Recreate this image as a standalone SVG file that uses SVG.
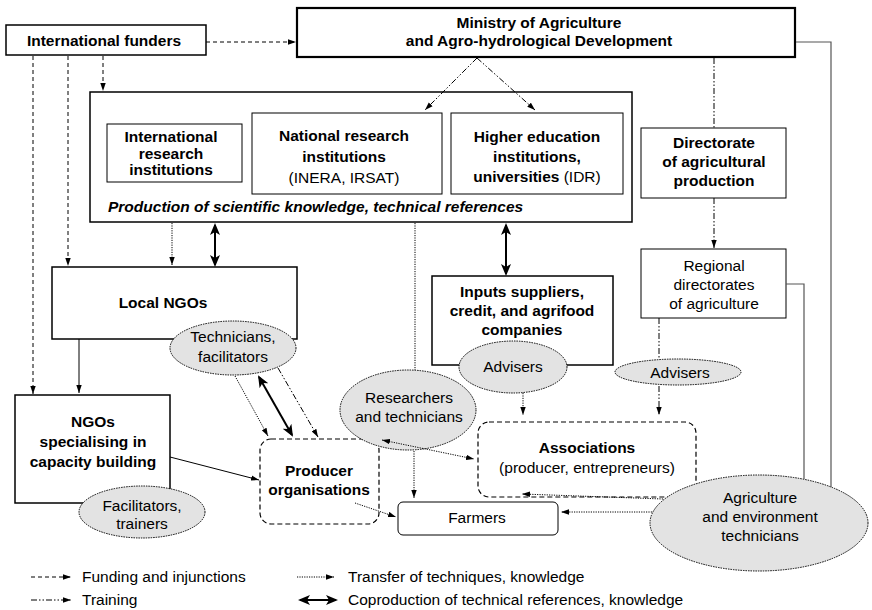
<svg xmlns="http://www.w3.org/2000/svg" width="872" height="610" viewBox="0 0 872 610">
<style>
.box{fill:#fff;stroke:#000;stroke-width:1.5}
.thin{stroke-width:1}
.heavy{stroke-width:2.2}
.ell{fill:#e3e3e3;stroke:#000;stroke-width:1;stroke-dasharray:1.5 1}
.dbox{fill:#fff;stroke:#000;stroke-width:1.2;stroke-dasharray:5 3}
.t{font-family:"Liberation Sans",Arial,Helvetica,sans-serif;font-size:15.5px;text-anchor:middle;fill:#000}
.b{font-weight:bold}
.c{fill:none;stroke:#000;stroke-width:1}
.fund{stroke-dasharray:4 3}
.train{stroke-dasharray:6 2 1.5 2 1.5 2}
.tran{stroke-dasharray:1.2 1.2}
.co{stroke-width:2}
.gray{stroke:#555;stroke-width:1.2}
</style>
<defs>
<marker id="a" viewBox="0 0 8 6" refX="8" refY="3" markerWidth="8" markerHeight="6" orient="auto-start-reverse" markerUnits="userSpaceOnUse"><path d="M0,0.3 L8,3 L0,5.7 z" fill="#000"/></marker>
<marker id="ak" viewBox="0 0 12 10" refX="10" refY="5" markerWidth="12" markerHeight="10" orient="auto-start-reverse" markerUnits="userSpaceOnUse"><path d="M0,0 L12,5 L0,10 L3,5 z" fill="#000"/></marker>
</defs>

<g id="international-funders">
<rect class="box" x="6" y="25" width="200" height="30"/>
<text class="t b" x="104" y="46">International funders</text>
</g>

<g id="ministry">
<rect class="box heavy" x="297" y="8" width="498" height="49"/>
<text class="t b" x="539" y="28">Ministry of Agriculture</text>
<text class="t b" x="539" y="46">and Agro-hydrological Development</text>
</g>

<g id="production">
<rect class="box" x="90" y="92" width="542" height="130"/>
<text class="t b" x="108" y="212" style="font-style:italic;text-anchor:start">Production of scientific knowledge, technical references</text>
</g>

<g id="international-research">
<rect class="box thin" x="107" y="124" width="135" height="58"/>
<text class="t b" x="171" y="142">International</text>
<text class="t b" x="171" y="159">research</text>
<text class="t b" x="171" y="175">institutions</text>
</g>

<g id="national-research">
<rect class="box thin" x="252" y="113" width="190" height="81"/>
<text class="t b" x="344" y="141">National research</text>
<text class="t b" x="344" y="162">institutions</text>
<text class="t" x="344" y="183">(INERA, IRSAT)</text>
</g>

<g id="higher-education">
<rect class="box thin" x="451" y="113" width="172" height="81"/>
<text class="t b" x="537" y="142">Higher education</text>
<text class="t b" x="537" y="162">institutions,</text>
<text class="t" x="537" y="182"><tspan class="b">universities</tspan> (IDR)</text>
</g>

<g id="directorate">
<rect class="box thin" x="641" y="128" width="145" height="70"/>
<text class="t b" x="714" y="148">Directorate</text>
<text class="t b" x="714" y="167">of agricultural</text>
<text class="t b" x="714" y="186">production</text>
</g>

<g id="regional-directorates">
<rect class="box thin" x="641" y="249" width="145" height="69"/>
<text class="t" x="714" y="271">Regional</text>
<text class="t" x="714" y="290">directorates</text>
<text class="t" x="714" y="309">of agriculture</text>
</g>

<g id="local-ngos">
<rect class="box" x="52" y="267" width="245" height="72"/>
<text class="t b" x="163" y="308">Local NGOs</text>
</g>

<g id="inputs-suppliers">
<rect class="box" x="432" y="276" width="181" height="89"/>
<text class="t b" x="522" y="297">Inputs suppliers,</text>
<text class="t b" x="522" y="316">credit, and agrifood</text>
<text class="t b" x="522" y="335">companies</text>
</g>

<g id="ngos-capacity">
<rect class="box" x="15" y="395" width="155" height="108"/>
<text class="t b" x="93" y="427">NGOs</text>
<text class="t b" x="93" y="447">specialising in</text>
<text class="t b" x="93" y="467">capacity building</text>
</g>

<g id="producer-organisations">
<rect class="dbox" x="260" y="439" width="119" height="85" rx="11"/>
<text class="t b" x="319" y="476">Producer</text>
<text class="t b" x="319" y="495">organisations</text>
</g>

<g id="associations">
<rect class="dbox" x="478" y="422" width="218" height="75" rx="11"/>
<text class="t b" x="587" y="453">Associations</text>
<text class="t" x="587" y="473">(producer, entrepreneurs)</text>
</g>

<g id="farmers">
<rect class="box thin" x="398" y="502" width="160" height="33" rx="5"/>
<text class="t" x="477" y="523">Farmers</text>
</g>

<g id="technicians-facilitators">
<ellipse class="ell" cx="233" cy="348" rx="63" ry="27"/>
<text class="t" x="233" y="342">Technicians,</text>
<text class="t" x="233" y="362">facilitators</text>
</g>

<g id="advisers-inputs">
<ellipse class="ell" cx="513" cy="367" rx="54" ry="26"/>
<text class="t" x="513" y="372">Advisers</text>
</g>

<g id="advisers-regional">
<ellipse class="ell" cx="678" cy="372" rx="63" ry="13"/>
<text class="t" x="680" y="378">Advisers</text>
</g>

<g id="facilitators-trainers">
<ellipse class="ell" cx="142" cy="512" rx="63" ry="26"/>
<text class="t" x="142" y="511">Facilitators,</text>
<text class="t" x="142" y="529">trainers</text>
</g>

<g id="researchers-technicians">
<ellipse class="ell" cx="408" cy="410" rx="68" ry="40"/>
<text class="t" x="409" y="403">Researchers</text>
<text class="t" x="409" y="422">and technicians</text>
</g>

<g id="agri-env-technicians">
<ellipse class="ell" cx="759" cy="523" rx="109" ry="48"/>
<text class="t" x="760" y="503">Agriculture</text>
<text class="t" x="760" y="522">and environment</text>
<text class="t" x="760" y="541">technicians</text>
</g>

<g id="connectors">
<path class="c fund" d="M206,42 H296" marker-end="url(#a)"/>
<path class="c fund" d="M103,56 V91" marker-end="url(#a)"/>
<path class="c fund" d="M68,56 V266" marker-end="url(#a)"/>
<path class="c fund" d="M33,56 V394" marker-end="url(#a)"/>
<path class="c train" d="M477,58 L425,110" marker-end="url(#a)"/>
<path class="c train" d="M477,58 L535,110" marker-end="url(#a)"/>
<path class="c train" d="M714,58 V128"/>
<path class="c train" d="M714,198 V248" marker-end="url(#a)"/>
<path class="c train" d="M659,318 V359"/>
<path class="c train" d="M659,386 V415" marker-end="url(#a)"/>
<path class="c gray" d="M796,42 H831 V487"/>
<path class="c gray" d="M786,284 H804 V479"/>
<path class="c tran" d="M172,223 V265" marker-end="url(#a)"/>
<path class="c co" d="M215,225 V265" marker-start="url(#ak)" marker-end="url(#ak)"/>
<path class="c" d="M79,339 V393" marker-end="url(#a)"/>
<path class="c" d="M170,457 L259,480" marker-end="url(#a)"/>
<path class="c tran" d="M235,376 L268,436" marker-end="url(#a)"/>
<path class="c co" d="M259,377 L292,435" marker-start="url(#ak)" marker-end="url(#ak)"/>
<path class="c train" d="M278,368 L318,437" marker-end="url(#a)"/>
<path class="c tran" d="M415,223 V370"/>
<path class="c tran" d="M414,451 V498" marker-end="url(#a)"/>
<path class="c tran" d="M382,440 L474,459" marker-start="url(#a)" marker-end="url(#a)"/>
<path class="c co" d="M506,225 V274" marker-start="url(#ak)" marker-end="url(#ak)"/>
<path class="c tran" d="M523,393 V415" marker-end="url(#a)"/>
<path class="c tran" d="M355,503 L396,517" marker-end="url(#a)"/>
<path class="c tran" d="M663,499 L522,494" marker-end="url(#a)"/>
<path class="c tran" d="M652,512 H561" marker-end="url(#a)"/>
</g>

<g id="legend">
<path class="c fund" d="M31,577 H71" marker-end="url(#a)"/>
<text class="t" x="82" y="582" style="text-anchor:start">Funding and injunctions</text>
<path class="c train" d="M31,600 H71" marker-end="url(#a)"/>
<text class="t" x="82" y="605" style="text-anchor:start">Training</text>
<path class="c tran" d="M297,577 H334" marker-end="url(#a)"/>
<text class="t" x="348" y="582" style="text-anchor:start">Transfer of techniques, knowledge</text>
<path class="c co" d="M300,600 H336" marker-start="url(#ak)" marker-end="url(#ak)"/>
<text class="t" x="348" y="605" style="text-anchor:start">Coproduction of technical references, knowledge</text>
</g>
</svg>
